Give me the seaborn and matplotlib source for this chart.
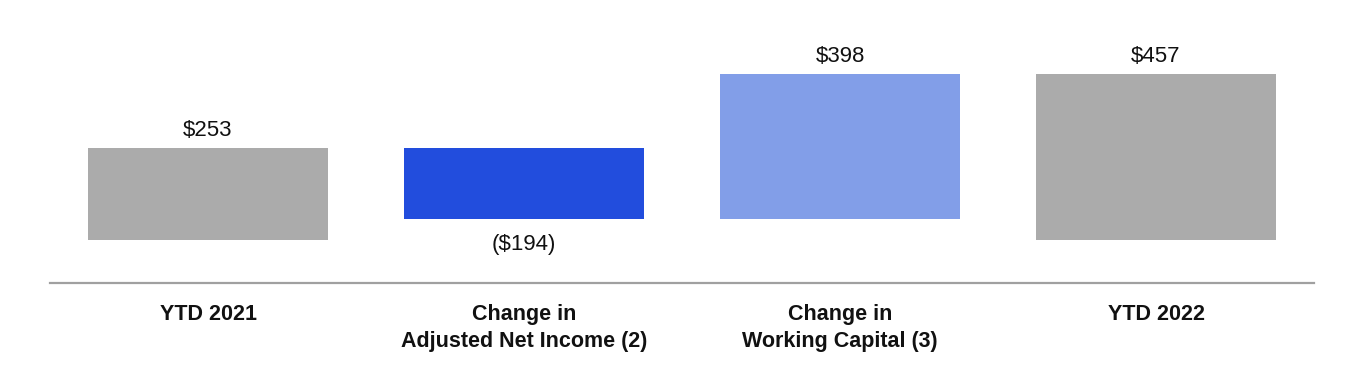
import matplotlib
matplotlib.use("Agg")
import matplotlib.pyplot as plt
import seaborn as sns
import pandas as pd

categories = ["YTD 2021", "Change in\nAdjusted Net Income (2)", "Change in\nWorking Capital (3)", "YTD 2022"]
values = [253, -194, 398, 457]
kinds = ["total", "delta", "delta", "total"]
value_labels = ["$253", "($194)", "$398", "$457"]
colors = ["#ABABAB", "#224DDD", "#829EE8", "#ABABAB"]

# waterfall starts
starts = []
running = 0
for v, k in zip(values, kinds):
    if k == "total":
        starts.append(0)
        running = v
    else:
        starts.append(running)
        running += v

df = pd.DataFrame({"cat": categories, "val": values})

sns.set_theme(style="white")
plt.rcParams["font.family"] = ["Liberation Sans", "DejaVu Sans"]

fig = plt.figure(figsize=(13.64, 3.70), dpi=100)
ax = fig.add_axes([50 / 1364, (370 - 283) / 370, 1264 / 1364, 283 / 370])

sns.barplot(data=df, x="cat", y="val", hue="cat", palette=colors, legend=False,
            width=0.76, ax=ax, saturation=1, linewidth=0, dodge=False)

for patch, s, v, lab in zip(ax.patches, starts, values, value_labels):
    patch.set_y(s)
    patch.set_height(v)
    cx = patch.get_x() + patch.get_width() / 2
    if v >= 0:
        ax.annotate(lab, (cx, s + v), xytext=(0, 5), textcoords="offset points",
                    ha="center", va="bottom", fontsize=16, color="#111111")
    else:
        ax.annotate(lab, (cx, s + v), xytext=(0, -11), textcoords="offset points",
                    ha="center", va="top", fontsize=16, color="#111111")

ax.set_xlim(-0.5, 3.5)
ax.set_ylim(-43 * 2.75, 240 * 2.75)
ax.set_xlabel("")
ax.set_ylabel("")
ax.set_yticks([])
for side in ["top", "left", "right"]:
    ax.spines[side].set_visible(False)
ax.spines["bottom"].set_color("#A0A0A0")
ax.spines["bottom"].set_linewidth(1.6)
ax.tick_params(axis="x", length=0, pad=15)
for t in ax.get_xticklabels():
    t.set_fontweight("bold")
    t.set_fontsize(15.5)
    t.set_color("#111111")
    t.set_linespacing(1.38)

fig.savefig("out.png", dpi=100)
